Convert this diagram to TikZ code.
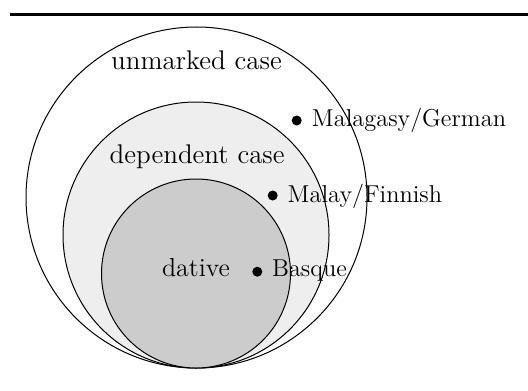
\documentclass[tikz,border=0pt]{standalone}
\usepackage{xcolor}
\definecolor{depfill}{HTML}{EEEEEE}
\definecolor{datfill}{HTML}{CCCCCC}
\begin{document}
\begin{tikzpicture}[x=0.5pt,y=-0.5pt,
  setcircle/.style={circle,draw=black,line width=0.5pt,inner sep=0pt,outer sep=0pt},
  biglabel/.style={inner sep=0pt,anchor=base,font=\fontsize{13.5}{16}\selectfont},
  dotmark/.style={circle,fill=black,inner sep=0pt,minimum size=5pt},
  dotlabel/.style={inner sep=0pt,anchor=base west,font=\fontsize{12.2}{14}\selectfont}]
  \useasboundingbox (0,0) rectangle (528,390);
  % top rule
  \draw[line width=1.5pt] (9.5,15) -- (528,15);
  % nested case sets, all touching at the bottom
  \node[setcircle,minimum size=170.5pt] (unmarked) at (196.5,197.5) {};
  \node[setcircle,fill=depfill,minimum size=133pt] (dependent) at (196,235) {};
  \node[setcircle,fill=datfill,minimum size=94.5pt] (dative) at (196,273.5) {};
  % set names
  \node[biglabel] (unmarkedname) at (196.5,69.3) {unmarked case};
  \node[biglabel] (dependentname) at (197.2,163.3) {dependent case};
  \node[biglabel,anchor=base west,font=\fontsize{13}{16}\selectfont] (dativename) at (161.7,276.7) {dative};
  % languages
  \node[dotmark] (mg) at (296.7,120.5) {};
  \node[dotlabel] (mgname) at (311.5,126.2) {Malagasy/German};
  \node[dotmark] (mf) at (272.7,195.5) {};
  \node[dotlabel] (mfname) at (287.3,202) {Malay/Finnish};
  \node[dotmark] (bq) at (257.3,271.7) {};
  \node[dotlabel] (bqname) at (271.7,276.7) {Basque};
\end{tikzpicture}
\end{document}
